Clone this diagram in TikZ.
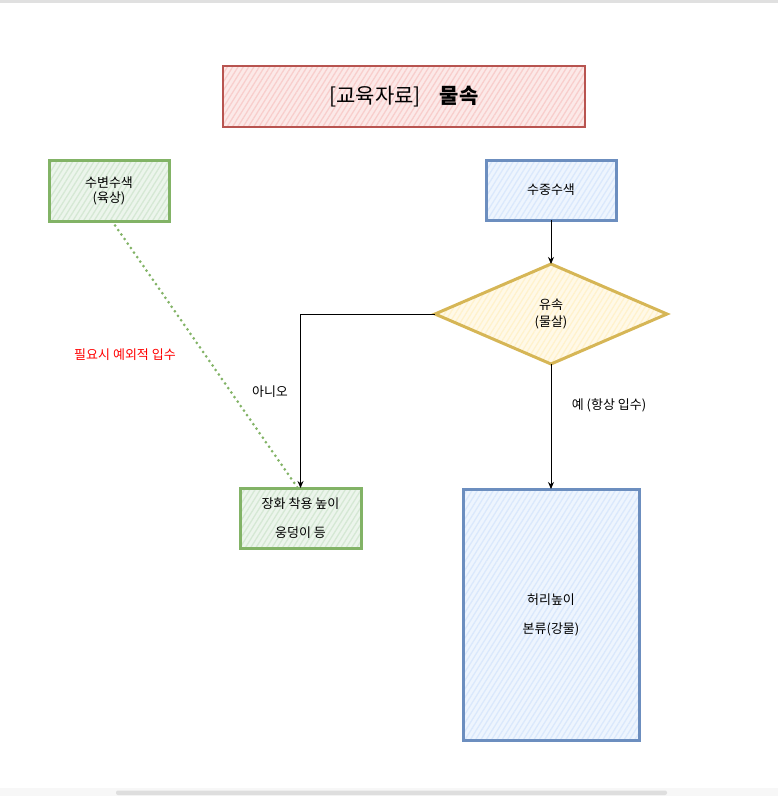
\documentclass[tikz,border=0pt]{standalone}
\usepackage{fontspec}
\setmainfont{Noto Sans CJK KR}
\usetikzlibrary{patterns.meta,arrows.meta,shapes.geometric}
\definecolor{redfill}{HTML}{F8CECC}
\definecolor{redline}{HTML}{B85450}
\definecolor{greenfill}{HTML}{D5E8D4}
\definecolor{greenline}{HTML}{82B366}
\definecolor{bluefill}{HTML}{DAE8FC}
\definecolor{blueline}{HTML}{6C8EBF}
\definecolor{yellowfill}{HTML}{FFF2CC}
\definecolor{yellowline}{HTML}{D6B656}
\tikzset{
  lbl/.style={font=\fontsize{13}{15}\selectfont, align=center, inner sep=0pt},
  box/.style={lbl, line width=3pt, inner sep=0pt, outer sep=0pt},
  hatch/.style={preaction={fill=#1!45}, pattern={Lines[angle=58,distance=4.5pt,line width=1.3pt]}, pattern color=#1},
  greenbox/.style={box, draw=greenline, hatch=greenfill},
  bluebox/.style={box, draw=blueline, hatch=bluefill},
  titlebox/.style={box, draw=redline, line width=1.4pt, hatch=redfill, font=\fontsize{21}{24}\selectfont},
  decision/.style={box, diamond, draw=yellowline, hatch=yellowfill},
  arr/.style={draw=black, line width=0.9pt, -{Stealth[length=7pt,width=6pt]}},
  dotline/.style={draw=greenline, line width=3pt, line cap=round, dash pattern=on 0pt off 5.5pt},
}
\begin{document}
\begin{tikzpicture}[x=1pt,y=-1pt]
\useasboundingbox (0,0) rectangle (778,796);
% window chrome
\fill[black!12] (0,0) rectangle (778,2.5);
\fill[black!3] (0,788) rectangle (778,796);
\fill[black!13, rounded corners=2pt] (116,790.5) rectangle (667,795);

\node[titlebox, minimum width=362pt, minimum height=61pt] (title) at (404,96.5) {[교육자료]\hspace{0.9em}\textbf{물속}};

\node[greenbox, minimum width=120pt, minimum height=61pt] (g1) at (109,190.5) {수변수색\\(육상)};
\node[bluebox, minimum width=130pt, minimum height=60pt] (b1) at (551,190) {수중수색};
\node[decision, minimum width=232pt, minimum height=100pt] (d) at (551,314) {유속\\[2pt](물살)};
\node[greenbox, minimum width=121pt, minimum height=60pt] (g2) at (300.5,518) {장화 착용 높이\\[14pt]웅덩이 등};
\node[bluebox, minimum width=176pt, minimum height=251pt] (b2) at (551,614.5) {허리높이\\[14pt]본류(강물)};

\draw[arr] (b1.south) -- (d.north);
\draw[arr] (d.west) -| (g2.north);
\draw[arr] (d.south) -- (b2.north);
\draw[dotline] ([xshift=3pt]g1.south) -- ([xshift=-2pt,yshift=-1pt]g2.north);

\node[lbl] (lno) at (270,392) {아니오};
\node[lbl] (lyes) at (609,405) {예 (항상 입수)};
\node[lbl, text=red] (lopt) at (125,355) {필요시 예외적 입수};
\end{tikzpicture}
\end{document}
